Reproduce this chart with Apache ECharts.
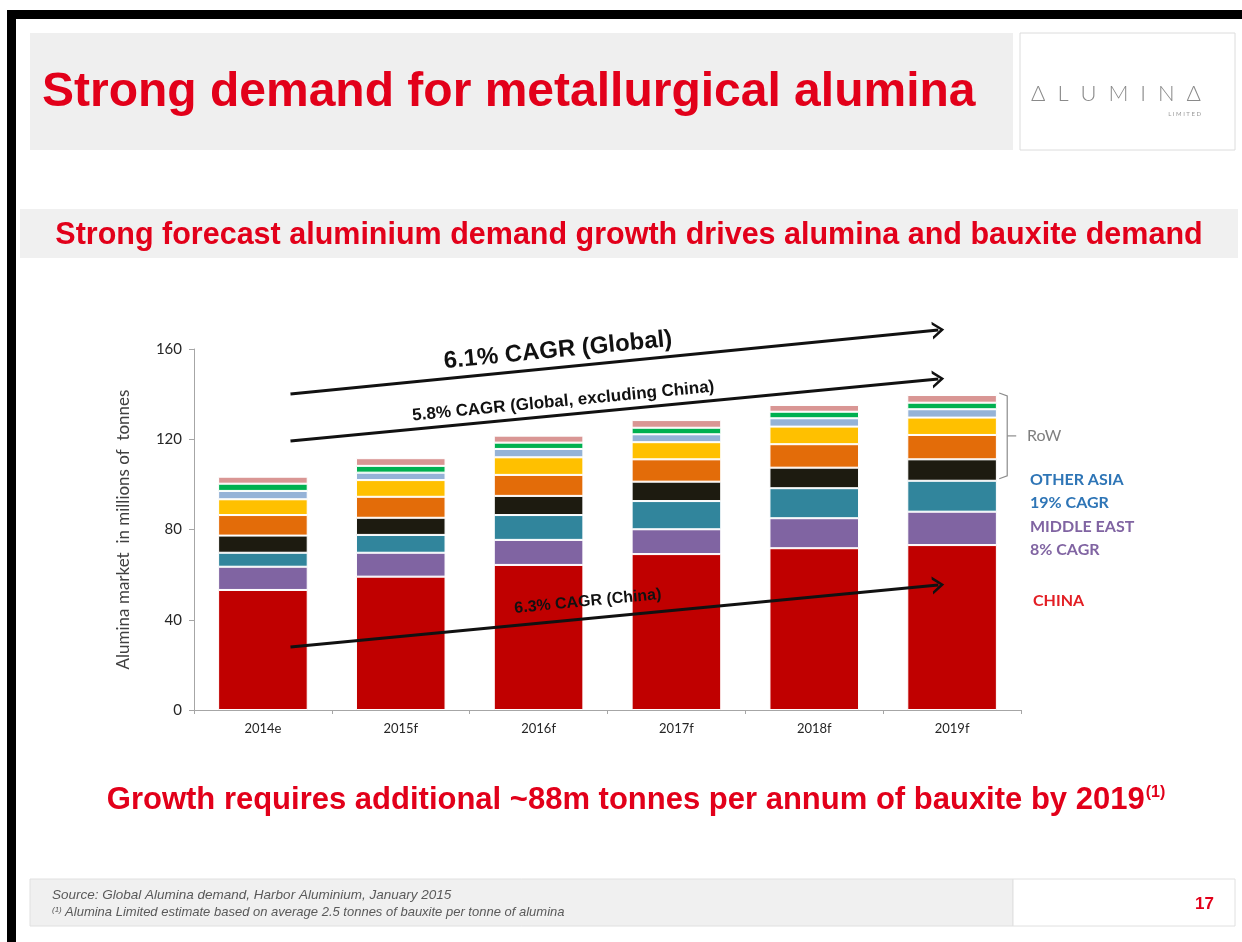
<!DOCTYPE html>
<html>
<head>
<meta charset="utf-8">
<script src="https://cdn.jsdelivr.net/npm/echarts@6/dist/echarts.min.js"></script>
<style>
    html, body { margin: 0; padding: 0; background: #fff; }
    #chart { width: 1242px; height: 942px; }
</style>
</head>
<body>
<div id="chart"></div>
<script>
    // alumina demand, millions of tonnes
    var years = ['2014e', '2015f', '2016f', '2017f', '2018f', '2019f'];
    var china = [53.2, 59.1, 64.3, 69.1, 71.7, 73.1];
    var middleEast = [10.3, 10.6, 11.1, 11.0, 13.3, 14.8];
    var otherAsia = [6.2, 7.9, 11.0, 12.5, 13.3, 13.7];
    var rowBlack = [7.6, 7.6, 8.5, 8.6, 9.1, 9.5];
    var rowOrange = [9.1, 9.3, 9.3, 9.9, 10.4, 10.8];
    var rowYellow = [7.0, 7.4, 7.8, 7.6, 7.8, 7.7];
    var rowBlue = [3.7, 3.3, 3.7, 3.5, 3.7, 3.7];
    var rowGreen = [3.2, 3.0, 2.8, 2.9, 2.9, 2.9];
    var rowPink = [3.1, 3.4, 3.1, 3.4, 3.0, 3.4];
    var yTicks = [0, 40, 80, 120, 160];

    // CAGR arrows, in (category index, value) space
    var cagrLabels = ['6.1% CAGR (Global)', '5.8% CAGR (Global, excluding China)', '6.3% CAGR (China)'];
    var cagrStart = [[0.2, 140.1], [0.2, 119.2], [0.2, 27.9]];
    var cagrEnd = [[4.9, 168.4], [4.9, 146.7], [4.9, 55.4]];

    var RED = '#E2001A';
    var ARIAL = '"Liberation Sans", Arial, sans-serif';
    var CALIBRI = 'Lato, "Open Sans", sans-serif';

    var stack = [
        {name: 'China', data: china, color: '#C00000'},
        {name: 'Middle East', data: middleEast, color: '#8064A2'},
        {name: 'Other Asia', data: otherAsia, color: '#31859C'},
        {name: 'RoW 1', data: rowBlack, color: '#1D1B10'},
        {name: 'RoW 2', data: rowOrange, color: '#E36C09'},
        {name: 'RoW 3', data: rowYellow, color: '#FFC000'},
        {name: 'RoW 4', data: rowBlue, color: '#95B3D7'},
        {name: 'RoW 5', data: rowGreen, color: '#00B050'},
        {name: 'RoW 6', data: rowPink, color: '#D99694'}
    ];

    var series = stack.map(function (s) {
        return {
            name: s.name,
            type: 'bar',
            stack: 'total',
            barWidth: '65%',
            data: s.data,
            itemStyle: {color: s.color, borderColor: '#fff', borderWidth: 1}
        };
    });

    var arrowLines = [];
    var labelShift = [110, 100, 50];
    var labelDist = [5, 5, 9];
    var labelSize = [24, 17, 16];
    for (var i = 0; i < cagrLabels.length; i++) {
        arrowLines.push([
            {
                coord: cagrStart[i],
                label: {
                    show: true,
                    position: 'insideMiddleTop',
                    formatter: cagrLabels[i],
                    fontFamily: ARIAL,
                    fontWeight: 'bold',
                    fontSize: labelSize[i],
                    color: '#111',
                    distance: labelDist[i],
                    padding: [0, labelShift[i], 0, 0]
                }
            },
            {coord: cagrEnd[i]}
        ]);
    }

    // arrows live in an overlay grid with the same scale but more head room
    var pxPerUnit = 361 / 160;
    var overlayMax = 200;
    series.push({
        name: 'arrows',
        type: 'line',
        xAxisIndex: 1,
        yAxisIndex: 1,
        data: [],
        silent: true,
        markLine: {
            silent: true,
            symbol: ['none', 'path://M0,20 L10,0 L20,20 L16.5,20 L10,7 L3.5,20 Z'],
            symbolSize: [18, 12],
            lineStyle: {color: '#111', width: 3, type: 'solid'},
            data: arrowLines
        }
    });

    var chart = echarts.init(document.getElementById('chart'));

    var option = {
        animation: false,
        backgroundColor: '#fff',
        grid: [
            {left: 194, right: 221, top: 349, bottom: 232},
            {left: 194, right: 221, top: 710 - overlayMax * pxPerUnit, bottom: 232}
        ],
        xAxis: [
            {
                type: 'category',
                gridIndex: 0,
                data: years,
                axisLine: {show: true, lineStyle: {color: '#A6A6A6', width: 1}},
                axisTick: {show: true, length: 4, lineStyle: {color: '#A6A6A6'}},
                axisLabel: {color: '#262626', fontFamily: CALIBRI, fontSize: 13, margin: 12}
            },
            {type: 'value', gridIndex: 1, min: -0.5, max: 5.5, show: false}
        ],
        yAxis: [
            {
                type: 'value',
                gridIndex: 0,
                min: yTicks[0],
                max: yTicks[yTicks.length - 1],
                interval: yTicks[1] - yTicks[0],
                name: 'Alumina market  in millions of  tonnes',
                nameLocation: 'middle',
                nameGap: 62,
                nameTextStyle: {color: '#404040', fontFamily: CALIBRI, fontSize: 17},
                axisLine: {show: true, lineStyle: {color: '#A6A6A6', width: 1}},
                axisTick: {show: true, length: 5, lineStyle: {color: '#A6A6A6'}},
                axisLabel: {color: '#262626', fontFamily: CALIBRI, fontSize: 15, margin: 12},
                splitLine: {show: false}
            },
            {type: 'value', gridIndex: 1, min: 0, max: overlayMax, show: false}
        ],
        series: series
    };

    chart.setOption(option);

    /* decoration: slide frame, titles, side labels, footer */
    var last = years.length - 1;
    var rowBottom = china[last] + middleEast[last] + otherAsia[last];
    var total = rowBottom + rowBlack[last] + rowOrange[last] + rowYellow[last] +
        rowBlue[last] + rowGreen[last] + rowPink[last];
    var bx = chart.convertToPixel({xAxisIndex: 1}, last + 0.4);
    var bTop = chart.convertToPixel({yAxisIndex: 0}, total) - 2;
    var bBot = chart.convertToPixel({yAxisIndex: 0}, rowBottom) - 2;
    var bMid = (bTop + bBot) / 2;

    chart.setOption({
        graphic: [
            {type: 'rect', shape: {x: 7, y: 10, width: 1235, height: 9}, style: {fill: '#000'}},
            {type: 'rect', shape: {x: 7, y: 10, width: 9, height: 932}, style: {fill: '#000'}},
            {type: 'rect', shape: {x: 30, y: 33, width: 983, height: 117}, style: {fill: '#EFEFEF'}},
            {type: 'rect', shape: {x: 1020, y: 33, width: 215, height: 117}, style: {fill: '#fff', stroke: '#DCDCDC', lineWidth: 1}},
            {
                type: 'text', x: 42, y: 93,
                style: {text: 'Strong demand for metallurgical alumina', fill: RED, font: 'bold 48px ' + ARIAL, verticalAlign: 'middle'}
            },
            {
                type: 'text', x: 1116, y: 94,
                style: {text: 'Δ  L  U  M  I  N  Δ', fill: '#8A8A8A', font: '300 22px ' + CALIBRI, align: 'center', verticalAlign: 'middle'}
            },
            {
                type: 'text', x: 1201, y: 114,
                style: {text: 'L I M I T E D', fill: '#9A9A9A', font: '6px ' + CALIBRI, align: 'right', verticalAlign: 'middle'}
            },
            {type: 'rect', shape: {x: 20, y: 209, width: 1218, height: 49}, style: {fill: '#F0F0F0'}},
            {
                type: 'text', x: 629, y: 236,
                style: {text: 'Strong forecast aluminium demand growth drives alumina and bauxite demand', fill: RED, font: 'bold 30.5px ' + ARIAL, align: 'center', verticalAlign: 'middle'}
            },
            {
                type: 'polyline',
                shape: {points: [[bx - 8, bTop], [bx, bTop + 3], [bx, bBot - 3], [bx - 8, bBot]]},
                style: {stroke: '#8C8C8C', lineWidth: 1.2, fill: null}
            },
            {
                type: 'line',
                shape: {x1: bx, y1: bMid, x2: bx + 9, y2: bMid},
                style: {stroke: '#8C8C8C', lineWidth: 1.2}
            },
            {type: 'text', x: 1027, y: bMid, style: {text: 'RoW', fill: '#7F7F7F', font: '16px ' + CALIBRI, verticalAlign: 'middle'}},
            {type: 'text', x: 1030, y: 480, style: {text: 'OTHER ASIA', fill: '#2E75B6', font: 'bold 16px ' + CALIBRI, verticalAlign: 'middle'}},
            {type: 'text', x: 1030, y: 503, style: {text: '19% CAGR', fill: '#2E75B6', font: 'bold 16px ' + CALIBRI, verticalAlign: 'middle'}},
            {type: 'text', x: 1030, y: 527, style: {text: 'MIDDLE EAST', fill: '#8064A2', font: 'bold 16px ' + CALIBRI, verticalAlign: 'middle'}},
            {type: 'text', x: 1030, y: 550, style: {text: '8% CAGR', fill: '#8064A2', font: 'bold 16px ' + CALIBRI, verticalAlign: 'middle'}},
            {type: 'text', x: 1033, y: 601, style: {text: 'CHINA', fill: '#E31E24', font: 'bold 16px ' + CALIBRI, verticalAlign: 'middle'}},
            {
                type: 'text', x: 636, y: 800,
                style: {
                    text: '{m|Growth requires additional ~88m tonnes per annum of bauxite by 2019}{s|(1)}',
                    align: 'center', verticalAlign: 'middle',
                    rich: {
                        m: {fill: RED, font: 'bold 31px ' + ARIAL},
                        s: {fill: RED, font: 'bold 16px ' + ARIAL, verticalAlign: 'top', padding: [0, 0, 14, 1]}
                    }
                }
            },
            {type: 'rect', shape: {x: 30, y: 879, width: 983, height: 47}, style: {fill: '#F0F0F0', stroke: '#E0E0E0', lineWidth: 1}},
            {type: 'rect', shape: {x: 1013, y: 879, width: 222, height: 47}, style: {fill: '#fff', stroke: '#E0E0E0', lineWidth: 1}},
            {
                type: 'text', x: 52, y: 895,
                style: {text: 'Source: Global Alumina demand, Harbor Aluminium, January 2015', fill: '#595959', font: 'italic 13.5px ' + ARIAL, verticalAlign: 'middle'}
            },
            {
                type: 'text', x: 52, y: 912,
                style: {
                    text: '{s|(1)} {t|Alumina Limited estimate based on average 2.5 tonnes of bauxite per tonne of alumina}',
                    verticalAlign: 'middle',
                    rich: {
                        s: {fill: '#595959', font: 'italic 8px ' + ARIAL, padding: [0, 0, 5, 0]},
                        t: {fill: '#595959', font: 'italic 13px ' + ARIAL}
                    }
                }
            },
            {type: 'text', x: 1214, y: 904, style: {text: '17', fill: RED, font: 'bold 17px ' + ARIAL, align: 'right', verticalAlign: 'middle'}}
        ]
    });
</script>
</body>
</html>
